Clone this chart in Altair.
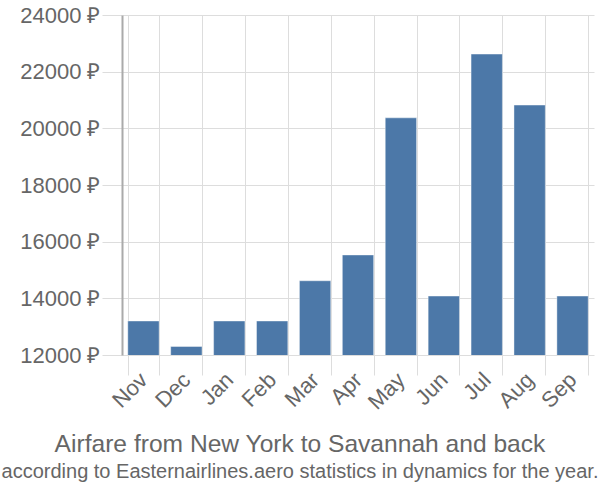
import altair as alt
import pandas as pd

months = ["Nov", "Dec", "Jan", "Feb", "Mar", "Apr", "May", "Jun", "Jul", "Aug", "Sep"]
prices = [13200, 12300, 13200, 13200, 14620, 15530, 20370, 14080, 22620, 20820, 14080]

df = pd.DataFrame({"month": months, "price": prices})

font = "Liberation Sans"

chart = alt.Chart(df).mark_bar(color="#4c78a8", stroke="#ffffff", strokeWidth=1, strokeOpacity=0.4, clip=True).encode(
    x=alt.X("month:N", sort=months, title=None,
            scale=alt.Scale(paddingInner=0.27, paddingOuter=0.135),
            axis=alt.Axis(labelAngle=-45, labelFontSize=22, labelColor="#666666", labelFont=font,
                          tickBand="extent", tickSize=20, tickColor="#dddddd", gridColor="#dddddd",
                          grid=True, domain=False, labelAlign="right", labelBaseline="middle",
                          labelPadding=1)),
    y=alt.Y("price:Q", title=None,
            scale=alt.Scale(domain=[12000, 24000], nice=False, zero=False),
            axis=alt.Axis(values=list(range(12000, 24001, 2000)), labelExpr="datum.value + ' ₽'",
                          labelFontSize=22, labelColor="#666666", labelFont=font,
                          tickSize=20, tickColor="#dddddd", gridColor="#dddddd",
                          domainColor="#aaaaaa", domainWidth=2, labelPadding=2)),
).properties(
    width=472, height=340,
    title=alt.TitleParams(
        text="Airfare from New York to Savannah and back",
        subtitle="according to Easternairlines.aero statistics in dynamics for the year.",
        orient="bottom", anchor="middle", font=font, fontSize=24.6, fontWeight="normal",
        color="#666666", subtitleFont=font, subtitleFontSize=20, subtitleColor="#666666",
        offset=20, subtitlePadding=4, dx=-58,
    ),
    autosize=alt.AutoSizeParams(type="none"),
    padding={"left": 122, "top": 15, "right": 6, "bottom": 145},
).configure_view(stroke=None)

chart.save("out.html", embed_options={"renderer": "svg", "actions": False})
